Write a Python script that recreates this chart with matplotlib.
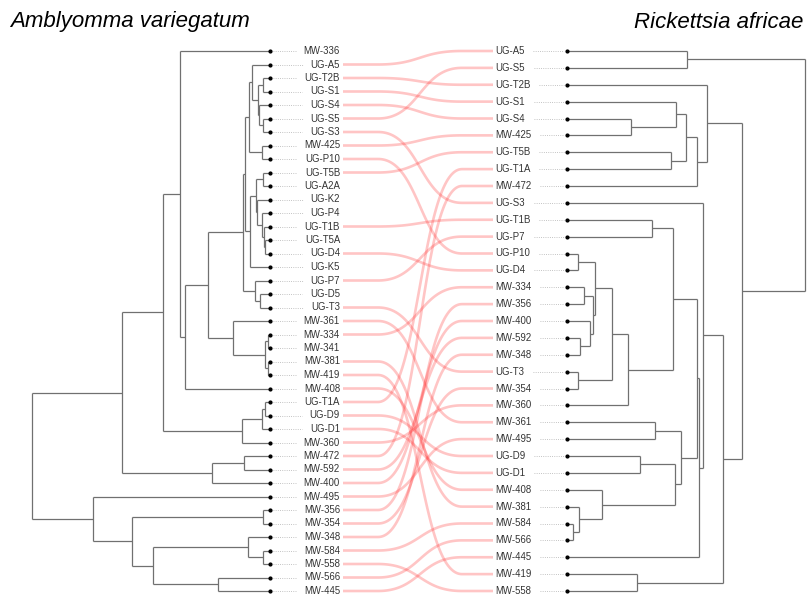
import numpy as np
import matplotlib
matplotlib.use("Agg")
import matplotlib.pyplot as plt

plt.rcParams['font.family'] = ['Liberation Sans', 'DejaVu Sans']

# titles of the two trees
left_title = "Amblyomma variegatum"
right_title = "Rickettsia africae"

# trees as (child, child, height); tips at height 0, root at height 1
# left tree (host)
clade_x = (("UG-A5", (("UG-T2B", "UG-S1", 0.029),
                      ("UG-S4", ("UG-S5", "UG-S3", 0.029), 0.046), 0.050), 0.076),
           ("MW-425", "UG-P10", 0.034), 0.090)
clade_y = ((("UG-T5B", "UG-A2A", 0.031),
            ("UG-K2", ("UG-P4", ("UG-T1B", ("UG-T5A", "UG-D4", 0.021), 0.025), 0.034), 0.053), 0.059),
           "UG-K5", 0.084)
clade_p7 = ("UG-P7", ("UG-D5", "UG-T3", 0.042), 0.063)
clade_361 = ("MW-361", (("MW-334", "MW-341", 0.008), ("MW-381", "MW-419", 0.008), 0.021), 0.155)
clade_up = ("MW-336", ((((clade_x, clade_y, 0.103), clade_p7, 0.113), clade_361, 0.261), "MW-408", 0.357), 0.378)
clade_d = ((("UG-T1A", "UG-D9", 0.021), "UG-D1", 0.034), "MW-360", 0.118)
clade_472 = (("MW-472", "MW-592", 0.109), "MW-400", 0.244)
clade_low = ("MW-495", (("MW-356", "MW-354", 0.029),
                        (("MW-348", ("MW-584", "MW-558", 0.029), 0.092), ("MW-566", "MW-445", 0.218), 0.492),
                        0.580), 0.744)
left_tree = (((clade_up, clade_d, 0.450), clade_472, 0.622), clade_low, 1.0)

# right tree (pathogen)
r_as = ("UG-A5", "UG-S5", 0.503)
r_top = ("UG-T2B", ((("UG-S1", ("UG-S4", "MW-425", 0.268), 0.458), ("UG-T5B", "UG-T1A", 0.436), 0.500),
                    "MW-472", 0.545), 0.587)
r_mid = ((("UG-P10", "UG-D4", 0.047),
          (("MW-334", "MW-356", 0.071), ("MW-400", ("MW-592", "MW-348", 0.055), 0.097), 0.111), 0.118),
         ("UG-T3", "MW-354", 0.047), 0.188)
r_673 = (("UG-T1B", "UG-P7", 0.356), (r_mid, "MW-360", 0.255), 0.447)
r_680 = (("MW-361", "MW-495", 0.370),
         (("UG-D9", "UG-D1", 0.307), ("MW-408", ("MW-381", ("MW-584", "MW-566", 0.026), 0.050), 0.146), 0.454),
         0.478)
r_703 = ("UG-S3", ((r_673, r_680, 0.547), "MW-445", 0.556), 0.573)
right_tree = (r_as, (r_top, (r_703, ("MW-419", "MW-558", 0.293), 0.655), 0.734), 1.0)


def leaves(node):
    if isinstance(node, str):
        return [node]
    return leaves(node[0]) + leaves(node[1])


left_leaves = leaves(left_tree)
right_leaves = leaves(right_tree)

fig = plt.figure(figsize=(8.08, 5.96), dpi=100)
ax = fig.add_axes([0, 0, 1, 1])
ax.set_xlim(0, 808)
ax.set_ylim(596, 0)
ax.axis('off')

top, bottom = 51, 591
left_y = dict(zip(left_leaves, np.linspace(top, bottom, len(left_leaves))))
right_y = dict(zip(right_leaves, np.linspace(top, bottom, len(right_leaves))))

tree_col = '#707070'


def draw(node, ypos, xmap):
    # returns (x, y) of node and draws its branches
    if isinstance(node, str):
        return xmap(0), ypos[node]
    a, b, h = node
    xa, ya = draw(a, ypos, xmap)
    xb, yb = draw(b, ypos, xmap)
    x = xmap(h)
    ax.plot([x, x], [ya, yb], color=tree_col, lw=0.9, solid_capstyle='butt')
    ax.plot([x, xa], [ya, ya], color=tree_col, lw=0.9, solid_capstyle='butt')
    ax.plot([x, xb], [yb, yb], color=tree_col, lw=0.9, solid_capstyle='butt')
    return x, (ya + yb) / 2


draw(left_tree, left_y, lambda h: 270 - 238 * h)
draw(right_tree, right_y, lambda h: 567 + 238 * h)

ax.plot([270] * len(left_leaves), [left_y[n] for n in left_leaves], 'o', ms=2.0, color='black')
ax.plot([567] * len(right_leaves), [right_y[n] for n in right_leaves], 'o', ms=2.0, color='black')

ltexts = [ax.text(340, left_y[n], n, ha='right', va='center', fontsize=6.9, color='#333333')
          for n in left_leaves]
rtexts = [ax.text(495, right_y[n], n, ha='left', va='center', fontsize=6.9, color='#333333')
          for n in right_leaves]

ax.text(10, 22, left_title, style='italic', fontsize=16, ha='left', va='center', color='black')
ax.text(803, 22, right_title, style='italic', fontsize=16, ha='right', va='center', color='black')

# dotted guides between tips and labels
fig.canvas.draw()
inv = ax.transData.inverted()
for n, t in zip(left_leaves, ltexts):
    x0 = inv.transform(t.get_window_extent().p0)[0]
    ax.plot([273, x0 - 8], [left_y[n]] * 2, ls=':', lw=0.6, color='#b0b0b0')
for n, t in zip(right_leaves, rtexts):
    x1 = inv.transform(t.get_window_extent().p1)[0]
    ax.plot([x1 + 9, 564], [right_y[n]] * 2, ls=':', lw=0.6, color='#b0b0b0')

# connecting curves
t = np.linspace(0, 1, 80)
xs, xe, xm = 378, 462, 420
bx = (1 - t) ** 3 * xs + 3 * (1 - t) ** 2 * t * xm + 3 * (1 - t) * t ** 2 * xm + t ** 3 * xe
for n in right_leaves:
    if n not in left_y:
        continue
    y0, y1 = left_y[n], right_y[n]
    by = (1 - t) ** 3 * y0 + 3 * (1 - t) ** 2 * t * y0 + 3 * (1 - t) * t ** 2 * y1 + t ** 3 * y1
    xx = np.concatenate([[343], bx, [493]])
    yy = np.concatenate([[y0], by, [y1]])
    ax.plot(xx, yy, color='#ff3030', alpha=0.28, lw=1.9, solid_capstyle='butt')

fig.savefig('out.png', dpi=100)
